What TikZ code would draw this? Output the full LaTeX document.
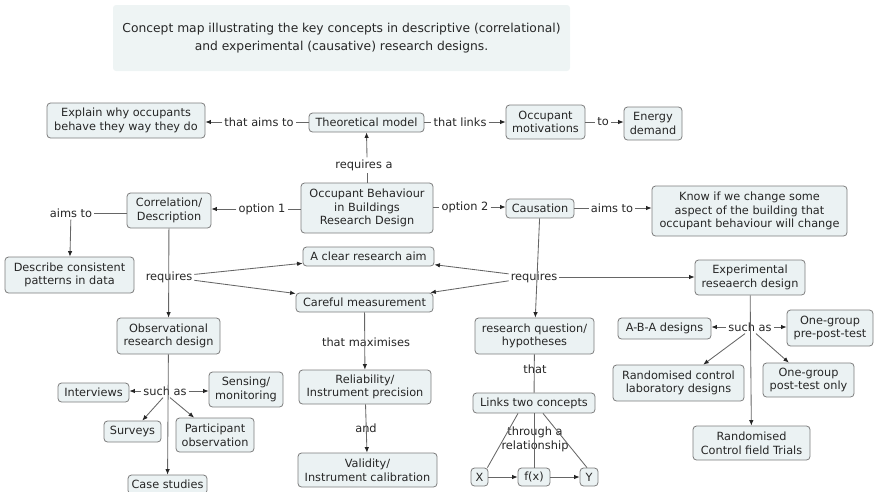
\documentclass[tikz,border=0pt]{standalone}
\usepackage{fontspec}
\setmainfont{DejaVu Sans}
\usetikzlibrary{arrows.meta}

\definecolor{boxfill}{HTML}{EBF2F3}
\definecolor{boxline}{HTML}{7C7C7C}
\definecolor{titlefill}{HTML}{EEF4F4}
\definecolor{ink}{HTML}{262626}
\definecolor{wirecol}{HTML}{666666}

\tikzset{
  concept/.style={draw=boxline, fill=boxfill, rounded corners=3.5pt, line width=0.8pt,
    align=center, inner sep=0pt, text=ink, font=\fontsize{11.3}{13.7}\selectfont},
  phrase/.style={inner sep=2pt, text=ink, align=center, font=\fontsize{11.4}{13.7}\selectfont},
  wire/.style={draw=wirecol, line width=0.85pt},
  arr/.style={wire, -{Latex[length=5.5pt,width=4.5pt,color=black!85]}},
}

\begin{document}
\begin{tikzpicture}[x=1pt,y=-1pt]
\useasboundingbox (0,0) rectangle (874,491);
\clip (0,0) rectangle (874,491);

% caption box
\node[fill=titlefill, rounded corners=3pt, minimum width=457pt, minimum height=66pt,
  align=center, text=ink, font=\fontsize{12.3}{18.5}\selectfont] (title) at (341.5,38)
  {Concept map illustrating the key concepts in descriptive (correlational)\\
   and experimental (causative) research designs.};

% concepts
\node[concept, minimum width=158pt, minimum height=35pt] (explain) at (126,120.5) {Explain why occupants\\behave they way they do};
\node[concept, minimum width=115pt, minimum height=19pt] (theo) at (366.5,122.5) {Theoretical model};
\node[concept, minimum width=79pt, minimum height=34pt] (motiv) at (545.5,122) {Occupant\\motivations};
\node[concept, minimum width=58pt, minimum height=33pt] (energy) at (653,123.5) {Energy\\demand};
\node[concept, minimum width=132pt, minimum height=50pt] (occ) at (367,208) {Occupant Behaviour\\in Buildings\\Research Design};
\node[concept, minimum width=84pt, minimum height=35pt] (corr) at (169,210.5) {Correlation/\\Description};
\node[concept, minimum width=68pt, minimum height=19pt] (caus) at (540,208.5) {Causation};
\node[concept, minimum width=195pt, minimum height=50pt] (know) at (749.5,211) {Know if we change some\\aspect of the building that\\occupant behaviour will change};
\node[concept, minimum width=129pt, minimum height=36pt] (describe) at (69.5,275) {Describe consistent\\patterns in data};
\node[concept, minimum width=131pt, minimum height=19pt] (aim) at (368.5,256.5) {A clear research aim};
\node[concept, minimum width=137pt, minimum height=19pt] (careful) at (364.5,302.5) {Careful measurement};
\node[concept, minimum width=103pt, minimum height=36pt] (obs) at (168.5,336) {Observational\\research design};
\node[concept, minimum width=132pt, minimum height=34pt] (relia) at (365,387) {Reliability/\\Instrument precision};
\node[concept, minimum width=139pt, minimum height=34pt] (valid) at (367.5,470) {Validity/\\Instrument calibration};
\node[concept, minimum width=71pt, minimum height=19pt] (interv) at (93.5,392.5) {Interviews};
\node[concept, minimum width=74pt, minimum height=35pt] (sensing) at (246,389.5) {Sensing/\\monitoring};
\node[concept, minimum width=57pt, minimum height=21pt] (surveys) at (132.5,431.5) {Surveys};
\node[concept, minimum width=78pt, minimum height=34pt] (partic) at (215,435) {Participant\\observation};
\node[concept, minimum width=79pt, minimum height=19pt] (case) at (167.5,484.5) {Case studies};
\node[concept, minimum width=119pt, minimum height=36pt] (rq) at (534.5,336) {research question/\\hypotheses};
\node[concept, minimum width=122pt, minimum height=20pt] (links) at (534,403) {Links two concepts};
\node[concept, minimum width=17pt, minimum height=18pt] (X) at (479.5,477) {X};
\node[concept, minimum width=32pt, minimum height=18pt] (fx) at (534,477) {f(x)};
\node[concept, minimum width=18pt, minimum height=18pt] (Y) at (589,477) {Y};
\node[concept, minimum width=110pt, minimum height=35pt] (exper) at (750,277.5) {Experimental\\reseaerch design};
\node[concept, minimum width=93pt, minimum height=21pt] (aba) at (664.5,328.5) {A-B-A designs};
\node[concept, minimum width=86pt, minimum height=36pt] (prepost) at (830,328) {One-group\\pre-post-test};
\node[concept, minimum width=131pt, minimum height=36pt] (rlab) at (678.5,383) {Randomised control\\laboratory designs};
\node[concept, minimum width=91pt, minimum height=34pt] (post) at (808.5,380) {One-group\\post-test only};
\node[concept, minimum width=117pt, minimum height=34pt] (rct) at (751.5,443) {Randomised\\Control field Trials};

% linking phrases
\node[phrase] (aimsT) at (259,122) {that aims to};
\node[phrase] (linksL) at (460,122) {that links};
\node[phrase] (toL) at (603,122) {to};
\node[phrase] (reqA) at (364,165) {requires a};
\node[phrase] (opt1) at (262,209) {option 1};
\node[phrase] (opt2) at (465,207) {option 2};
\node[phrase] (aimsC) at (612,208) {aims to};
\node[phrase] (aimsL) at (71,213) {aims to};
\node[phrase] (reqL) at (169,277) {requires};
\node[phrase] (reqR) at (534,277) {requires};
\node[phrase] (maxim) at (366,342) {that maximises};
\node[phrase] (andL) at (366,428) {and};
\node[phrase] (suchL) at (165,391) {such as};
\node[phrase] (thatL) at (535,369) {that};
\node[phrase] (through) at (535,439) {through a\\relationship};
\node[phrase] (suchR) at (750,327) {such as};

% top row
\draw[wire] (aimsT -| theo.west) -- (aimsT);
\draw[arr] (aimsT) -- (aimsT -| explain.east);
\draw[wire] (linksL -| theo.east) -- (linksL);
\draw[arr] (linksL) -- (linksL -| motiv.west);
\draw[wire] (toL -| motiv.east) -- (toL);
\draw[arr] (toL) -- (toL -| energy.west);

% central concept
\draw[wire] (occ.north) -- (occ.north |- reqA.south);
\draw[arr] (occ.north |- reqA.north) -- (theo.south);
\draw[wire] (opt1 -| occ.west) -- (opt1);
\draw[arr] (opt1) -- (opt1 -| corr.east);
\draw[wire] (opt2 -| occ.east) -- (opt2);
\draw[arr] (opt2) -- (opt2 -| caus.west);
\draw[wire] (aimsC -| caus.east) -- (aimsC);
\draw[arr] (aimsC) -- (aimsC -| know.west);

% correlational branch
\draw[wire] (aimsL -| corr.west) -- (aimsL);
\draw[arr] (aimsL) -- (describe);
\draw[arr] (corr) -- (obs);
\draw[arr] (reqL) -- (aim);
\draw[arr] (reqL) -- (careful);
\draw[arr] (obs) -- (case);
\draw[arr] (suchL) -- (suchL -| interv.east);
\draw[arr] (suchL) -- (suchL -| sensing.west);
\draw[arr] ([xshift=-2pt]suchL.south) -- (surveys);
\draw[arr] ([xshift=5pt]suchL.south) -- (partic);

% measurement chain
\draw[arr] (careful) -- (relia);
\draw[arr] (relia) -- (valid);

% causal branch
\draw[arr] (caus) -- (rq);
\draw[arr] (reqR) -- (aim);
\draw[arr] (reqR) -- (careful);
\draw[arr] (reqR) -- (reqR -| exper.west);
\draw[wire] (rq) -- (links);
\draw[wire] ([xshift=-16pt]links.south) -- ([xshift=-1pt]X.north east);
\draw[wire] (links) -- (fx);
\draw[wire] ([xshift=9pt]links.south) -- ([xshift=-2pt]Y.north);
\draw[arr] (X) -- (fx);
\draw[arr] (fx) -- (Y);

% experimental designs
\draw[arr] (exper) -- (rct);
\draw[arr] (suchR) -- (suchR -| aba.east);
\draw[arr] (suchR) -- (suchR -| prepost.west);
\draw[arr] ([xshift=-5pt]suchR.south) -- (rlab);
\draw[arr] ([xshift=6pt]suchR.south) -- (post);

\end{tikzpicture}
\end{document}
